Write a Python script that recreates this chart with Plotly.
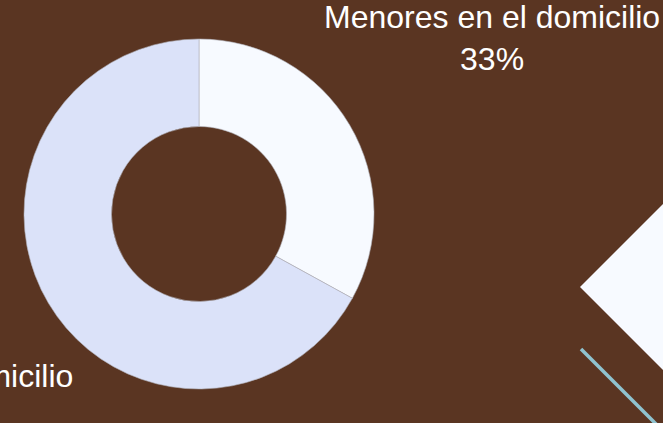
import plotly.graph_objects as go

labels = ["Menores en el domicilio", "Sin menores en el domicilio"]
values = [33, 67]
colors = ["#f7faff", "#dbe2f9"]

W, H = 663, 423
BG = "#5a3522"

def px(x):
    return x / W

def py(y):
    return 1 - y / H

fig = go.Figure()
fig.add_trace(go.Pie(
    labels=labels,
    values=values,
    hole=0.5,
    sort=False,
    direction="clockwise",
    rotation=0,
    textinfo="none",
    hoverinfo="label+percent",
    marker=dict(colors=colors, line=dict(color="#b0b0b8", width=0.6)),
    domain=dict(x=[px(24), px(374)], y=[py(389), py(39)]),
    showlegend=False,
))

total = sum(values)
label_pos = [(492, 79), (-123, 438)]
for lab, v, (x, y) in zip(labels, values, label_pos):
    fig.add_annotation(
        x=px(x), y=py(y), xref="paper", yref="paper",
        text=f"{lab}<br>{round(100 * v / total)}%",
        showarrow=False, xanchor="center", yanchor="bottom",
        font=dict(family="Liberation Sans, Arial, sans-serif", size=32, color="#ffffff"),
    )

# decorative shapes
fig.add_shape(type="path", xref="paper", yref="paper",
              path=f"M {px(580)} {py(287)} L {px(700)} {py(167)} L {px(820)} {py(287)} L {px(700)} {py(407)} Z",
              fillcolor="#f7faff", line=dict(width=0), layer="above")
fig.add_shape(type="line", xref="paper", yref="paper",
              x0=px(581), y0=py(349), x1=px(660), y1=py(428),
              line=dict(color="#8fc3cf", width=3.5), layer="above")

fig.update_layout(
    width=W, height=H,
    margin=dict(l=0, r=0, t=0, b=0),
    paper_bgcolor=BG, plot_bgcolor=BG,
    font=dict(family="Liberation Sans, Arial, sans-serif", color="#ffffff"),
)

fig.write_html("out.html", config={"displayModeBar": False})
with open("out.html", encoding="utf-8") as f:
    html = f.read()
html = html.replace("<head>", f"<head><style>html,body{{margin:0;padding:0;background:{BG};overflow:hidden}}</style>", 1)
with open("out.html", "w", encoding="utf-8") as f:
    f.write(html)
